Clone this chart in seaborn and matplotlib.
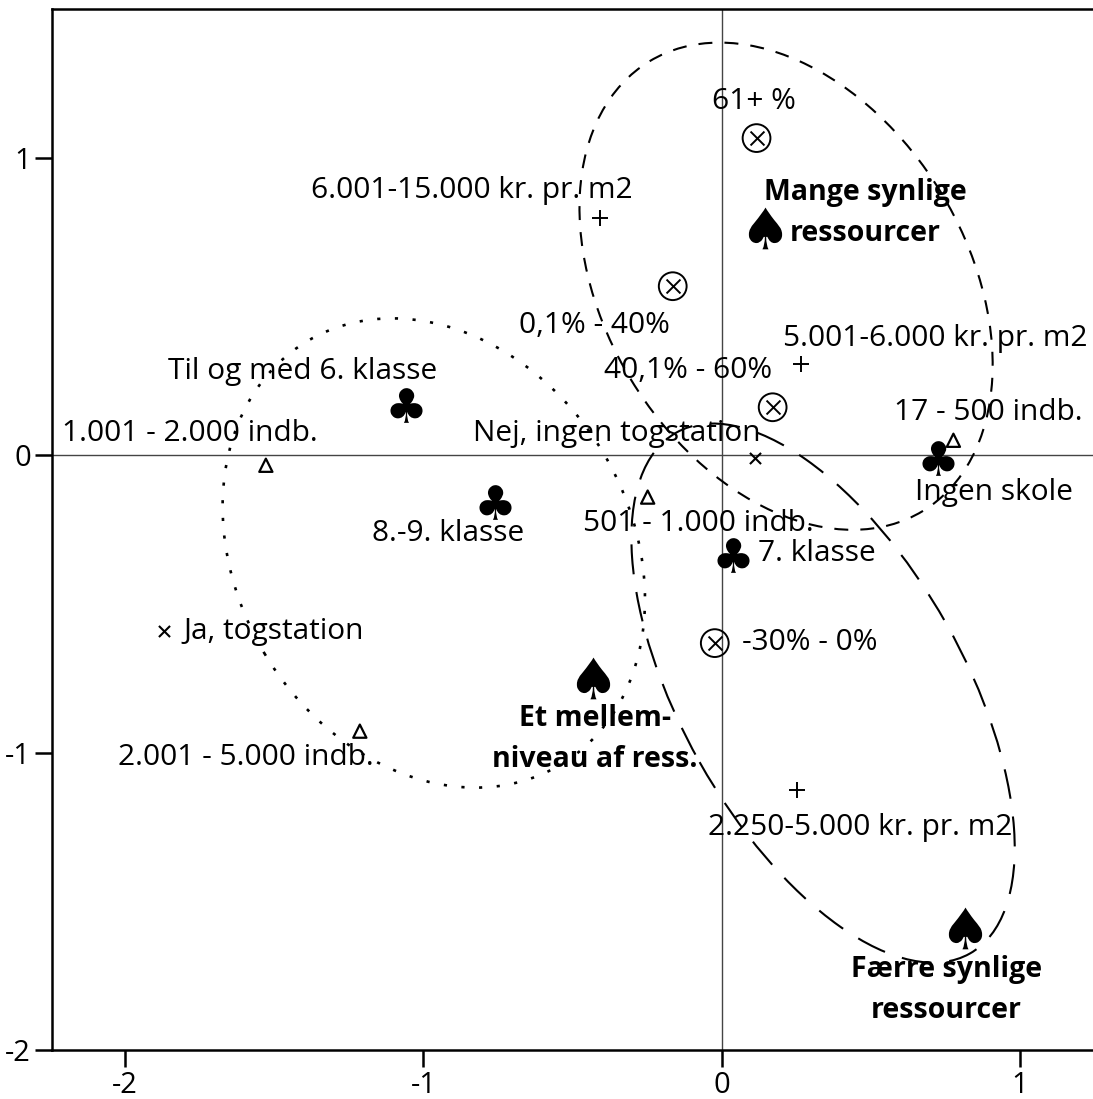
import pandas as pd
import numpy as np
import seaborn as sns
import matplotlib as mpl
import matplotlib.pyplot as plt
from matplotlib.patches import Ellipse

sns.set_style('white')
mpl.rcParams.update({
    'font.family'      : ['Open Sans', 'DejaVu Sans'],
    'font.size'        : 21.5,
    'mathtext.fontset' : 'dejavusans',
    'text.color'       : 'black',
    'axes.labelcolor'  : 'black',
    'xtick.color'      : 'black',
    'ytick.color'      : 'black',
    'xtick.labelsize'  : 21,
    'ytick.labelsize'  : 21,
})

# ---- data ----
# spades: the three resource groups
spade_x = [0.144, -0.432, 0.817]
spade_y = [0.763, -0.750, -1.590]
spade_lab = ['Mange synlige\nressourcer', 'Et mellem-\nniveau af ress.', 'Færre synlige\nressourcer']

# clubs: school level
club_x = [-1.059, -0.760, 0.037, 0.724]
club_y = [0.168, -0.158, -0.336, -0.010]
club_lab = ['Til og med 6. klasse', '8.-9. klasse', '7. klasse', 'Ingen skole']

# circled x: share in percent
otimes_x = [0.117, -0.164, 0.171, -0.023]
otimes_y = [1.066, 0.568, 0.161, -0.632]
otimes_lab = ['61+ %', '0,1% - 40%', '40,1% - 60%', '-30% - 0%']

# plus: price per m2
plus_x = [-0.409, 0.265, 0.251]
plus_y = [0.797, 0.306, -1.126]
plus_lab = ['6.001-15.000 kr. pr. m2', '5.001-6.000 kr. pr. m2', '2.250-5.000 kr. pr. m2']

# triangles: town size
tri_x = [-1.528, -0.248, 0.777, -1.213]
tri_y = [-0.034, -0.141, 0.050, -0.928]
tri_lab = ['1.001 - 2.000 indb.', '501 - 1.000 indb.', '17 - 500 indb.', '2.001 - 5.000 indb.']

# x: train station
stat_x = [0.111, -1.869]
stat_y = [-0.010, -0.592]
stat_lab = ['Nej, ingen togstation', 'Ja, togstation']

# group ellipses: centre x, centre y, width, height, angle
ell_cx = [0.216, 0.340, -0.965]
ell_cy = [0.568, -0.800, -0.329]
ell_w = [1.768, 2.009, 1.658]
ell_h = [1.215, 0.949, 1.321]
ell_ang = [-58.8, -60.7, -59.4]

# ---- label offsets in pixels (dx, dy) ----
spade_off = [(101, 15), (2, -61), (-19, -62)]
club_off = [(-238, 34), (-123, -31), (25, 2), (-23, -34)]
otimes_off = [(-45, 37), (-154, -39), (-169, 37), (27, 1)]
plus_off = [(-289, 28), (-18, 26), (-89, -37)]
tri_off = [(-204, 32), (-65, -26), (-59, 28), (-242, -26)]
stat_off = [(-282, 25), (19, 0)]

fig = plt.figure(figsize=(10.93, 10.99), dpi=100)
ax = fig.add_axes([52/1093, 49/1099, 1 - 52/1093, 1041/1099])

ax.axhline(0, color='#444444', lw=1.0, zorder=1)
ax.axvline(0, color='#444444', lw=1.0, zorder=1)

ell_styles = [(0, (6.7, 5.8)), (0, (14.4, 8.6)), (0, (1.2, 5.5))]
ell_lw = [1.5, 1.5, 1.9]
for cx, cy, w, h, a, ls, lw in zip(ell_cx, ell_cy, ell_w, ell_h, ell_ang, ell_styles, ell_lw):
    ax.add_patch(Ellipse((cx, cy), w, h, angle=a, fill=False, ec='black',
                         lw=lw, ls=ls, zorder=2))

sns.scatterplot(x=spade_x, y=spade_y, marker='$\u2660$', s=30**2, color='black',
                edgecolor='black', linewidth=0, ax=ax, zorder=3)
sns.scatterplot(x=club_x, y=club_y, marker='$\u2663$', s=25**2, color='black',
                edgecolor='black', linewidth=0, ax=ax, zorder=3)
# circled x = open circle with an x on top
sns.scatterplot(x=otimes_x, y=otimes_y, marker='o', s=20**2, facecolor='none',
                edgecolor='black', linewidth=1.4, ax=ax, zorder=3)
sns.scatterplot(x=otimes_x, y=otimes_y, marker='x', s=10**2, color='black',
                linewidth=1.4, ax=ax, zorder=3)
sns.scatterplot(x=plus_x, y=plus_y, marker='+', s=11**2, color='black',
                linewidth=1.4, ax=ax, zorder=3)
sns.scatterplot(x=tri_x, y=tri_y, marker='^', s=9.5**2, facecolor='none',
                edgecolor='black', linewidth=1.6, ax=ax, zorder=3)
sns.scatterplot(x=stat_x, y=stat_y, marker='x', s=8**2, color='black',
                linewidth=1.5, ax=ax, zorder=3)

def put_labels(xs, ys, labs, offs, bold=False):
    for x, y, t, (dx, dy) in zip(xs, ys, labs, offs):
        if bold:
            ax.annotate(t, (x, y), xytext=(dx, dy), textcoords='offset pixels',
                        ha='center', va='center', multialignment='center',
                        fontweight='bold', fontsize=20.5, linespacing=1.55, zorder=4)
        else:
            ax.annotate(t, (x, y), xytext=(dx, dy), textcoords='offset pixels',
                        ha='left', va='center', fontsize=21.5, zorder=4)

put_labels(spade_x, spade_y, spade_lab, spade_off, bold=True)
put_labels(club_x, club_y, club_lab, club_off)
put_labels(otimes_x, otimes_y, otimes_lab, otimes_off)
put_labels(plus_x, plus_y, plus_lab, plus_off)
put_labels(tri_x, tri_y, tri_lab, tri_off)
put_labels(stat_x, stat_y, stat_lab, stat_off)

ax.set_xlim(-2.245, 1.245)
ax.set_ylim(-2.0, 1.5)
ax.set_xticks([-2, -1, 0, 1])
ax.set_yticks([-2, -1, 0, 1])
ax.set_xticklabels(['-2', '-1', '0', '1'])
ax.set_yticklabels(['-2', '-1', '0', '1'])
ax.tick_params(axis='both', direction='out', length=12, width=1.8, color='black',
               bottom=True, left=True, pad=3)
ax.spines['right'].set_visible(False)
for s in ['left', 'bottom', 'top']:
    ax.spines[s].set_color('black')
    ax.spines[s].set_linewidth(1.8)
ax.set(xlabel='', ylabel='')

plt.savefig('out.png', dpi=100)
plt.close()
